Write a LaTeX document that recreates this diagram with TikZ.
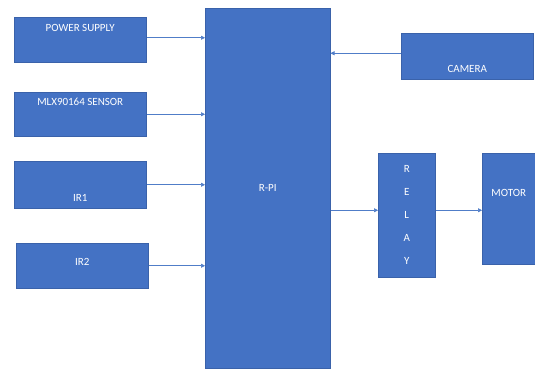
\documentclass[tikz,border=0pt]{standalone}
\usepackage{fontspec}
\setmainfont{Carlito}
\usetikzlibrary{arrows.meta,positioning,calc}
\definecolor{blkblue}{RGB}{68,114,196}
\definecolor{blkedge}{RGB}{58,98,170}
\definecolor{arrblue}{RGB}{80,125,200}
\tikzset{
  block/.style={
    draw=blkedge,
    fill=blkblue,
    line width=0.5pt,
    anchor=north west,
    inner xsep=0pt,
    inner ysep=0pt,
    text=white,
    align=center,
    font=\fontsize{11}{13}\selectfont
  },
  inblock/.style={
    block,
    minimum width=132pt,
    minimum height=45pt
  },
  arr/.style={-{Triangle[length=4pt,width=4pt]},line width=0.7pt,arrblue}
}

\begin{document}
\begin{tikzpicture}[x=1pt,y=-1pt]
  \useasboundingbox (0,0) rectangle (535,368);
  % inputs
  \node[inblock,text height=7pt,text depth=23pt] (power) at (14,17) {POWER SUPPLY};
  \node[inblock,text height=7pt,text depth=24pt,minimum height=44pt] (sensor) at (14,92) {MLX90164 SENSOR};
  \node[inblock,text height=40pt,text depth=7pt,minimum height=44pt] (irone) at (14,161) {IR1};
  \node[inblock,text height=7pt,text depth=7pt] (irtwo) at (16,243) {IR2};
  % controller
  \node[block,minimum width=125pt,minimum height=360pt] (rpi) at (205,8) {R-PI};
  % outputs
  \node[inblock,text height=39pt,text depth=7pt] (camera) at (401,33) {CAMERA};
  \node[block,minimum width=57pt,minimum height=124pt,font=\fontsize{11}{23}\selectfont] (relay) at (378,153) {R\\E\\L\\A\\Y};
  \node[block,minimum width=53pt,minimum height=111pt,text height=7pt,text depth=31pt] (motor) at (482,153) {MOTOR};

  \draw[arr] ([yshift=2pt]power.east) -- ([yshift=2pt]power.east -| rpi.west);
  \draw[arr] (sensor.east) -- (sensor.east -| rpi.west);
  \draw[arr] (irone.east) -- (irone.east -| rpi.west);
  \draw[arr] (irtwo.east) -- (irtwo.east -| rpi.west);
  \draw[arr] ([yshift=3pt]camera.west) -- ([yshift=3pt]camera.west -| rpi.east);
  \draw[arr] ([yshift=5pt]relay.west -| rpi.east) -- ([yshift=5pt]relay.west);
  \draw[arr] ([yshift=5pt]relay.east) -- ([yshift=5pt]relay.east -| motor.west);
\end{tikzpicture}
\end{document}
